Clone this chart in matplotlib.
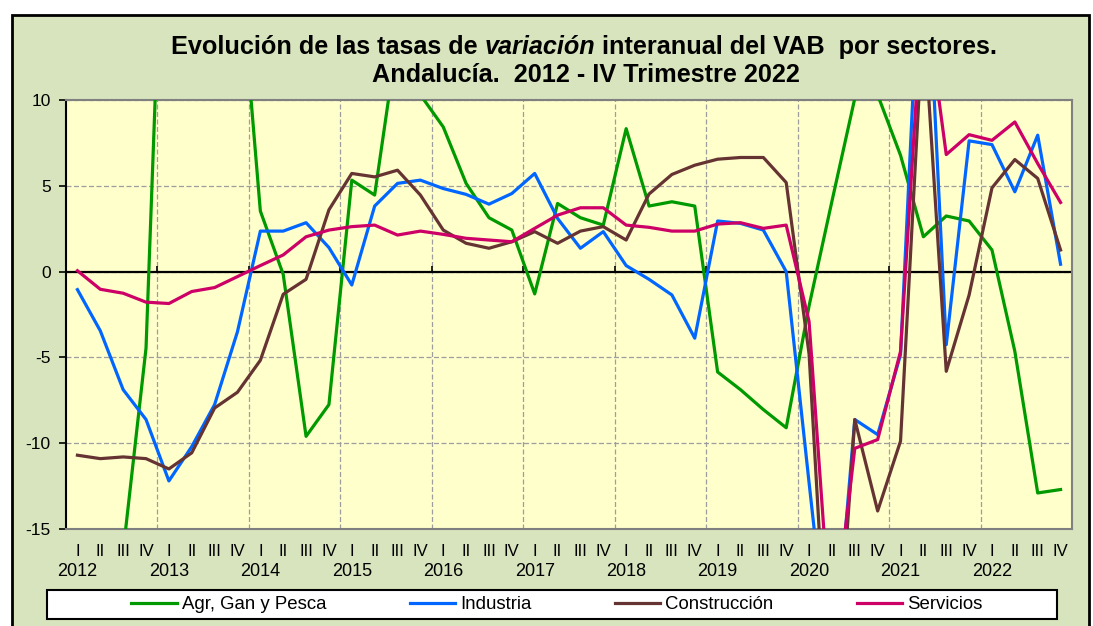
import numpy as np
import matplotlib.pyplot as plt
from matplotlib import transforms
from matplotlib.patches import Rectangle

plt.rcParams['font.family'] = ['Liberation Sans', 'DejaVu Sans']
plt.rcParams['axes.unicode_minus'] = False

years = [str(y) for y in range(2012, 2023)]
quarters = ['I', 'II', 'III', 'IV']

agr = [-20.5, -24.0, -16.3, -4.46, 31.9, 27.0, 23.0, 19.5, 3.53, -0.16, -9.6, -7.75,
       5.33, 4.46, 13.65, 10.3, 8.43, 5.14, 3.14, 2.42, -1.3, 3.97, 3.14, 2.71,
       8.33, 3.82, 4.07, 3.82, -5.85, -6.88, -8.04, -9.1, -2.0, 4.1, 10.1, 10.3,
       6.78, 2.03, 3.24, 2.95, 1.26, -4.65, -12.9, -12.7]
industria = [-1.05, -3.45, -6.88, -8.62, -12.2, -10.2, -7.75, -3.5, 2.36, 2.36, 2.85, 1.4,
             -0.78, 3.82, 5.14, 5.33, 4.84, 4.5, 3.93, 4.55, 5.72, 3.1, 1.36, 2.33,
             0.35, -0.45, -1.36, -3.88, 2.95, 2.81, 2.42, 0.0, -12.3, -24.4, -8.62, -9.5,
             -4.84, 23.0, -4.26, 7.62, 7.4, 4.65, 7.95, 0.43]
construccion = [-10.7, -10.9, -10.8, -10.9, -11.5, -10.56, -7.95, -7.03, -5.17, -1.32, -0.45, 3.6,
                5.72, 5.52, 5.91, 4.46, 2.42, 1.65, 1.36, 1.74, 2.33, 1.65, 2.36, 2.62,
                1.84, 4.52, 5.66, 6.2, 6.55, 6.65, 6.65, 5.19, -4.8, -28.0, -8.62, -13.95,
                -9.88, 15.0, -5.81, -1.36, 4.88, 6.53, 5.43, 1.26]
servicios = [0.05, -1.03, -1.26, -1.78, -1.86, -1.16, -0.93, -0.29, 0.35, 0.97, 2.03, 2.42,
             2.62, 2.71, 2.13, 2.36, 2.17, 1.94, 1.84, 1.74, 2.52, 3.29, 3.72, 3.72,
             2.71, 2.58, 2.36, 2.36, 2.77, 2.85, 2.52, 2.71, -2.91, -21.7, -10.3, -9.79,
             -4.65, 16.8, 6.82, 7.98, 7.65, 8.72, 6.3, 4.03]

series = [
    ('Agr, Gan y Pesca', agr, '#009900'),
    ('Industria', industria, '#0066FF'),
    ('Construcción', construccion, '#663333'),
    ('Servicios', servicios, '#CC0066'),
]

W, H = 1093, 626
n = len(agr)
x = np.arange(n)

fig = plt.figure(figsize=(W / 100, H / 100), dpi=100)
fig.patch.set_facecolor('white')
fig.patches.append(Rectangle((12 / W, -0.05), (1089 - 12) / W, 1.05 - 15 / H,
                             transform=fig.transFigure, facecolor='#D7E4BD',
                             edgecolor='black', lw=2, zorder=-1))

ax = fig.add_axes([66 / W, 1 - 529 / H, (1072 - 66) / W, (529 - 100) / H])
ax.set_facecolor('#FFFFCC')

handles = []
for name, vals, col in series:
    ln, = ax.plot(x, vals, color=col, lw=2.3, label=name, zorder=3)
    handles.append(ln)

ax.set_xlim(-0.5, n - 0.5)
ax.set_ylim(-15, 10)
ax.set_yticks(range(-15, 11, 5))
ax.set_xticks(np.arange(3.5, n - 1, 4))
ax.set_axisbelow(True)
ax.grid(True, ls=(0, (4, 2)), color='#9E9E9E', lw=0.9)
ax.tick_params(axis='x', length=0, labelbottom=False)
ax.tick_params(axis='y', length=5, width=1.2, color='black', labelsize=12.5, pad=6)
for s in ['top', 'right', 'bottom']:
    ax.spines[s].set_color('#808080')
    ax.spines[s].set_linewidth(1.5)
ax.spines['left'].set_color('black')
ax.spines['left'].set_linewidth(1.5)

# eje en cero con marcas de año
ax.axhline(0, color='black', lw=1.6, zorder=2)
ax.vlines(np.arange(-0.5, n, 4), 0, 0.35, color='black', lw=1.2, zorder=2)

blend = transforms.blended_transform_factory(ax.transData, fig.transFigure)
for i in range(n):
    ax.text(i, 1 - 551 / H, quarters[i % 4], transform=blend, ha='center',
            va='center', fontsize=12, clip_on=False)
    if i % 4 == 0:
        ax.text(i, 1 - 572 / H, years[i // 4], transform=blend, ha='center',
                va='center', fontsize=13, clip_on=False)

# leyenda
fig.patches.append(Rectangle((47 / W, 1 - 619 / H), 1010 / W, 29 / H,
                             transform=fig.transFigure, facecolor='white',
                             edgecolor='black', lw=1.5, zorder=1))
fig.legend(handles=handles, loc='center', bbox_to_anchor=(557 / W, 1 - 604.5 / H),
           ncol=4, frameon=False, fontsize=13.4, handlelength=2.42,
           handletextpad=0.27, columnspacing=4.5)

# titulo
fig.canvas.draw()
r = fig.canvas.get_renderer()
parts = [("Evolución de las tasas de ", 'normal'), ("variación", 'italic'),
         (" interanual del VAB  por sectores.", 'normal')]
tl = [fig.text(0, 1 - 47 / H, s, fontsize=18.2, fontweight='bold', style=st,
               va='center', ha='left') for s, st in parts]
widths = [t.get_window_extent(r).width for t in tl]
x0 = 584 - sum(widths) / 2
for t, w in zip(tl, widths):
    t.set_x(x0 / W)
    x0 += w
fig.text(586 / W, 1 - 75 / H, "Andalucía.  2012 - IV Trimestre 2022", fontsize=18.2,
         fontweight='bold', ha='center', va='center')

plt.savefig('out.png', dpi=100, facecolor=fig.get_facecolor())
